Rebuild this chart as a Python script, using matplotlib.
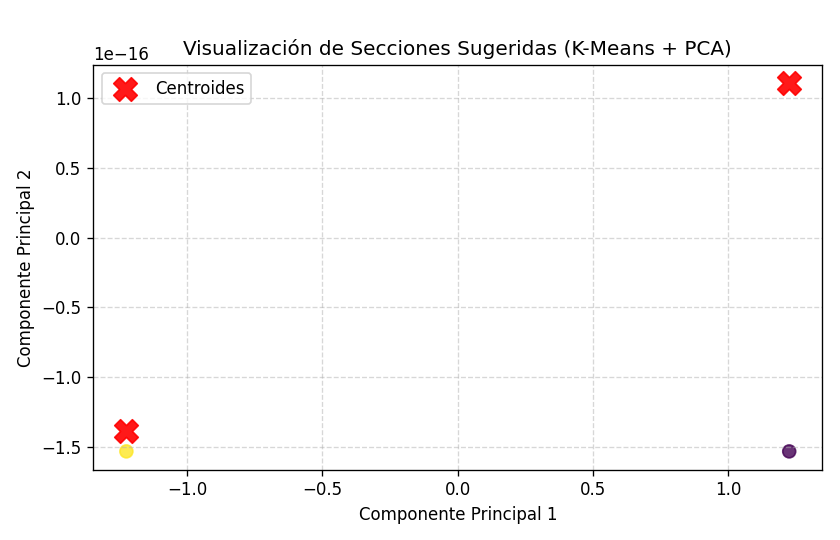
import numpy as np
import matplotlib.pyplot as plt

# puntos proyectados con PCA (escala 1e-16 en el eje Y)
pc1 = [-1.2247, 1.2247]
pc2 = [-1.53e-16, -1.53e-16]
labels = [1, 0]

# centroides en PCA
cent_pc1 = [-1.2247, 1.2247]
cent_pc2 = [-1.385e-16, 1.105e-16]

fig = plt.figure(figsize=(7, 4.5), dpi=120)
plt.scatter(pc1, pc2, c=labels, cmap="viridis", s=60, alpha=0.8)
plt.scatter(cent_pc1, cent_pc2, marker="X", s=200, c="red", alpha=0.9, label="Centroides")
plt.title("Visualización de Secciones Sugeridas (K-Means + PCA)")
plt.xlabel("Componente Principal 1")
plt.ylabel("Componente Principal 2")
plt.legend(loc="upper left")
plt.grid(True, linestyle="--", alpha=0.5)
plt.subplots_adjust(left=0.111, right=0.979, top=0.880, bottom=0.130)
plt.savefig("out.png")
